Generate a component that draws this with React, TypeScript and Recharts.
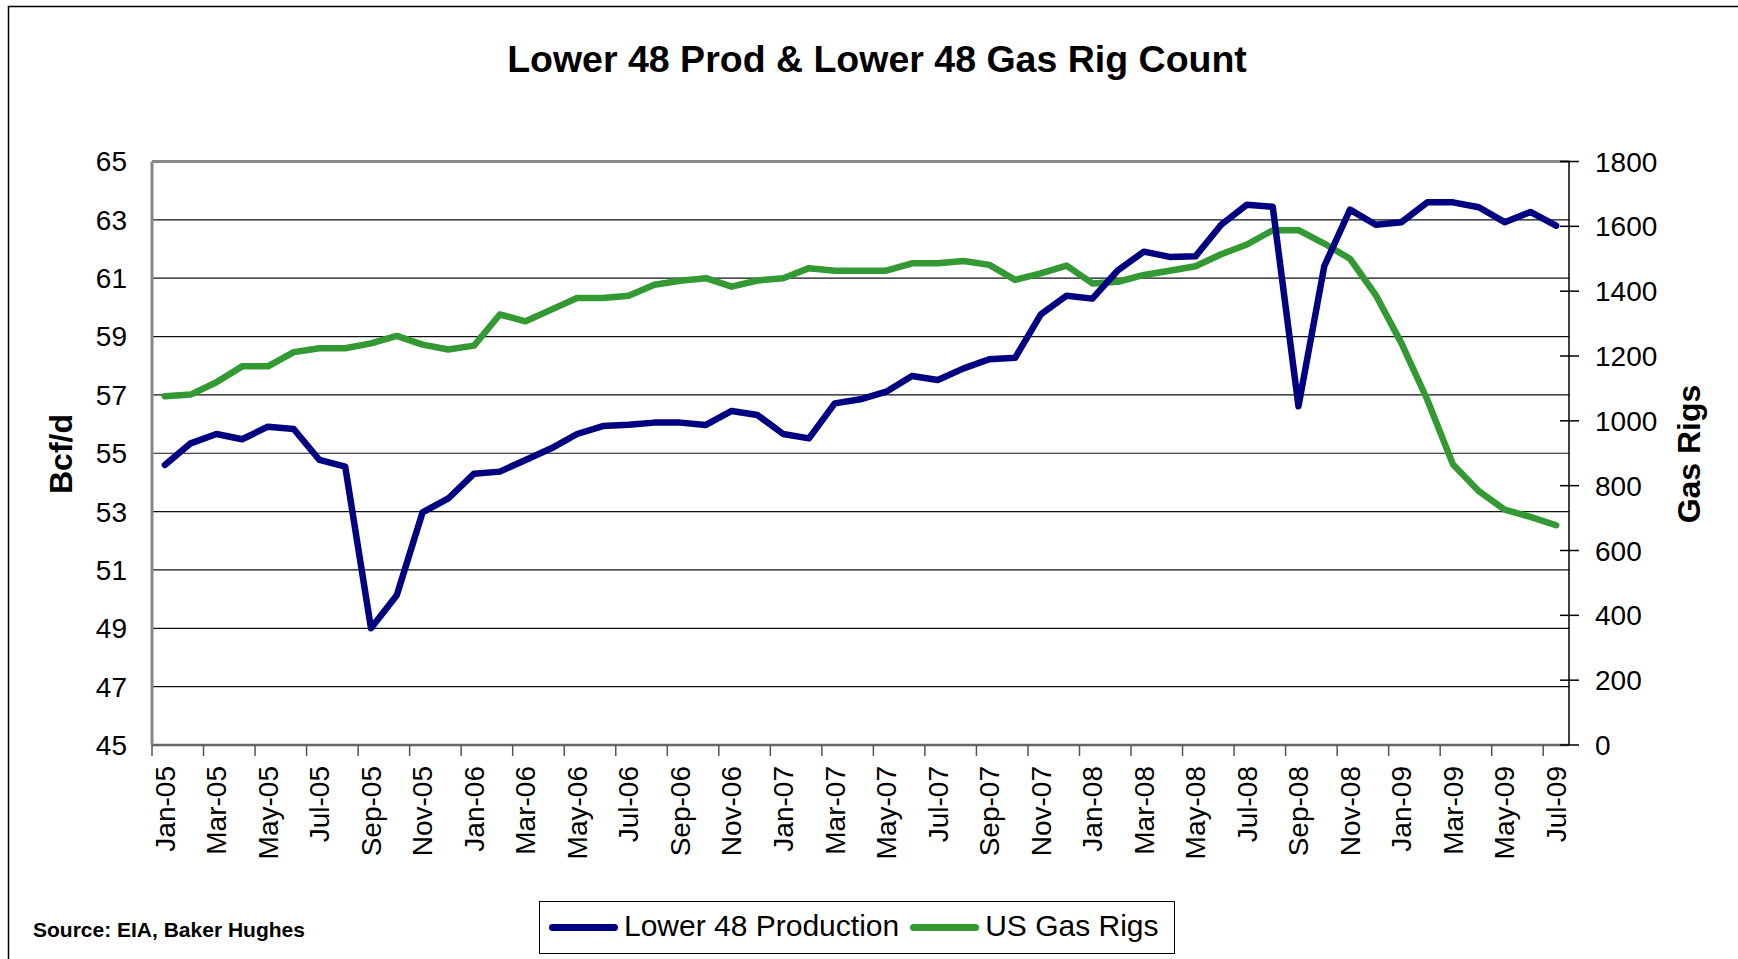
import { LineChart, Line, XAxis, YAxis, CartesianGrid, ReferenceLine, Legend } from 'recharts';

const W = 1738;
const H = 959;
const FONT = '"Liberation Sans", Arial, Helvetica, sans-serif';
const NAVY = '#000080';
const GREEN = '#339933';

// plot box
const PLOT_LEFT = 152;
const PLOT_RIGHT = 1569;
const PLOT_TOP = 161.5;
const PLOT_BOTTOM = 745;
const LEFT_AXIS_W = 80;
const RIGHT_AXIS_W = 110;
const X_AXIS_H = 130;
const RIGHT_TICK_GAP = 26;

const MONTHS = [
  'Jan-05', 'Feb-05', 'Mar-05', 'Apr-05', 'May-05', 'Jun-05', 'Jul-05', 'Aug-05', 'Sep-05', 'Oct-05', 'Nov-05', 'Dec-05',
  'Jan-06', 'Feb-06', 'Mar-06', 'Apr-06', 'May-06', 'Jun-06', 'Jul-06', 'Aug-06', 'Sep-06', 'Oct-06', 'Nov-06', 'Dec-06',
  'Jan-07', 'Feb-07', 'Mar-07', 'Apr-07', 'May-07', 'Jun-07', 'Jul-07', 'Aug-07', 'Sep-07', 'Oct-07', 'Nov-07', 'Dec-07',
  'Jan-08', 'Feb-08', 'Mar-08', 'Apr-08', 'May-08', 'Jun-08', 'Jul-08', 'Aug-08', 'Sep-08', 'Oct-08', 'Nov-08', 'Dec-08',
  'Jan-09', 'Feb-09', 'Mar-09', 'Apr-09', 'May-09', 'Jun-09', 'Jul-09'
];

// Bcf/d
const PRODUCTION = [
  54.6, 55.34, 55.66, 55.48, 55.91, 55.83, 54.77, 54.54, 49.0, 50.13, 52.97, 53.45,
  54.3, 54.37, 54.77, 55.17, 55.66, 55.93, 55.98, 56.05, 56.05, 55.97, 56.45, 56.31,
  55.66, 55.51, 56.71, 56.85, 57.11, 57.65, 57.51, 57.91, 58.22, 58.27, 59.76, 60.4,
  60.3, 61.28, 61.91, 61.73, 61.75, 62.83, 63.52, 63.45, 56.61, 61.41, 63.35, 62.83,
  62.92, 63.6, 63.6, 63.43, 62.92, 63.27, 62.8
];

// gas rig count
const RIGS = [
  1076, 1081, 1119, 1168, 1168, 1212, 1224, 1224, 1239, 1262, 1235, 1220,
  1232, 1328, 1307, 1343, 1379, 1379, 1386, 1420, 1432, 1440, 1414, 1433,
  1440, 1471, 1463, 1463, 1463, 1486, 1486, 1493, 1481, 1435, 1455, 1479,
  1424, 1429, 1450, 1463, 1477, 1514, 1544, 1588, 1588, 1547, 1500, 1388,
  1239, 1065, 865, 783, 726, 704, 678
];

const LEFT_TICKS = [45, 47, 49, 51, 53, 55, 57, 59, 61, 63, 65];
const RIGHT_TICKS = [0, 200, 400, 600, 800, 1000, 1200, 1400, 1600, 1800];
const X_TICKS = MONTHS.map((_, i) => i).filter((i) => i % 2 === 0);
const LEGEND_ORDER = ['Lower 48 Production', 'US Gas Rigs'];

const data = MONTHS.map((month, i) => ({ idx: i, month, prod: PRODUCTION[i], rigs: RIGS[i] }));

const HALF_BAND = (PLOT_RIGHT - PLOT_LEFT) / MONTHS.length / 2;

// label centred on the month, tick mark on the month's left boundary (Excel style)
function MonthTick({ x, y, payload }: any) {
  const label = MONTHS[payload.value];
  const bx = x - HALF_BAND;
  return (
    <g>
      <line x1={bx} x2={bx} y1={y} y2={y + 11} stroke="#555" strokeWidth={1.5} />
      <text
        x={x}
        y={y + 21}
        dy="0.35em"
        textAnchor="end"
        transform={`rotate(-90, ${x}, ${y + 21})`}
        fontSize={28}
        fontFamily={FONT}
        fill="#000"
      >
        {label}
      </text>
    </g>
  );
}

// right axis: tick crosses the axis line
function RigTick({ x, y, payload }: any) {
  const ax = x - RIGHT_TICK_GAP;
  return (
    <g>
      <line x1={ax - 9} x2={ax + 10} y1={y} y2={y} stroke="#000" strokeWidth={1.5} />
      <text x={x} y={y} dy="0.36em" textAnchor="start" fontSize={28} fontFamily={FONT} fill="#000">
        {payload.value}
      </text>
    </g>
  );
}

function LegendBox({ payload }: any) {
  const items = [...(payload ?? [])].sort(
    (a: any, b: any) => LEGEND_ORDER.indexOf(a.value) - LEGEND_ORDER.indexOf(b.value)
  );
  return (
    <div
      style={{
        width: 636,
        height: 53,
        boxSizing: 'border-box',
        border: '1.5px solid #000',
        background: '#fff',
        display: 'flex',
        alignItems: 'center',
        paddingLeft: 9,
        fontFamily: FONT,
        fontSize: 30,
        color: '#000',
        whiteSpace: 'nowrap'
      }}
    >
      {items.map((p: any, i: number) => (
        <div key={p.value} style={{ display: 'flex', alignItems: 'center', marginLeft: i === 0 ? 0 : 11 }}>
          <span style={{ display: 'inline-block', width: 69, height: 7, borderRadius: 3.5, background: p.color, marginRight: 6 }} />
          <span style={{ lineHeight: '30px', position: 'relative', top: -2 }}>{p.value}</span>
        </div>
      ))}
    </div>
  );
}

export default function App() {
  return (
    <div style={{ position: 'absolute', left: 0, top: 0, width: W, height: H, background: '#fff', overflow: 'hidden' }}>
      <LineChart
        width={W}
        height={H}
        data={data}
        margin={{
          top: PLOT_TOP,
          right: W - PLOT_RIGHT - RIGHT_AXIS_W,
          bottom: H - PLOT_BOTTOM - X_AXIS_H,
          left: PLOT_LEFT - LEFT_AXIS_W
        }}
      >
        <CartesianGrid xAxisId="x" yAxisId="l" vertical={false} stroke="#111" strokeWidth={1.2} />
        <XAxis
          xAxisId="x"
          dataKey="idx"
          type="number"
          domain={[-0.5, MONTHS.length - 0.5]}
          allowDataOverflow
          ticks={X_TICKS}
          interval={0}
          height={X_AXIS_H}
          tickSize={0}
          tickMargin={0}
          tickLine={false}
          tick={<MonthTick />}
          axisLine={{ stroke: '#666', strokeWidth: 2.5 }}
        />
        <YAxis
          yAxisId="l"
          orientation="left"
          domain={[45, 65]}
          ticks={LEFT_TICKS}
          interval={0}
          width={LEFT_AXIS_W}
          tickLine={false}
          tickSize={0}
          tickMargin={25}
          tick={{ fontSize: 28, fill: '#000', fontFamily: FONT }}
          axisLine={{ stroke: '#888', strokeWidth: 3 }}
        />
        <YAxis
          yAxisId="r"
          orientation="right"
          domain={[0, 1800]}
          ticks={RIGHT_TICKS}
          interval={0}
          width={RIGHT_AXIS_W}
          tickLine={false}
          tickSize={0}
          tickMargin={RIGHT_TICK_GAP}
          tick={<RigTick />}
          axisLine={{ stroke: '#000', strokeWidth: 1.5 }}
        />
        <ReferenceLine xAxisId="x" yAxisId="l" y={65} stroke="#888" strokeWidth={3} />
        <Line
          xAxisId="x"
          yAxisId="r"
          type="linear"
          dataKey="rigs"
          name="US Gas Rigs"
          stroke={GREEN}
          strokeWidth={6.5}
          strokeLinejoin="round"
          strokeLinecap="round"
          dot={false}
          activeDot={false}
          isAnimationActive={false}
        />
        <Line
          xAxisId="x"
          yAxisId="l"
          type="linear"
          dataKey="prod"
          name="Lower 48 Production"
          stroke={NAVY}
          strokeWidth={6.5}
          strokeLinejoin="round"
          strokeLinecap="round"
          dot={false}
          activeDot={false}
          isAnimationActive={false}
        />
        <Legend
          layout="horizontal"
          verticalAlign="middle"
          align="center"
          content={<LegendBox />}
          wrapperStyle={{ left: 539, top: 901, width: 636, height: 53 }}
        />
      </LineChart>

      <svg
        width={W}
        height={H}
        style={{ position: 'absolute', left: 0, top: 0, pointerEvents: 'none' }}
        fontFamily={FONT}
      >
        <rect x={8.5} y={6.5} width={W + 20} height={H + 20} fill="none" stroke="#000" strokeWidth={1.5} />
        <text x={877} y={72} textAnchor="middle" fontSize={37.5} fontWeight="bold" fill="#000">
          Lower 48 Prod &amp; Lower 48 Gas Rig Count
        </text>
        <text x={72} y={454} textAnchor="middle" fontSize={32} fontWeight="bold" fill="#000" transform="rotate(-90, 72, 454)">
          Bcf/d
        </text>
        <text x={1700} y={454} textAnchor="middle" fontSize={32} fontWeight="bold" fill="#000" transform="rotate(-90, 1700, 454)">
          Gas Rigs
        </text>
        <text x={33} y={937} fontSize={21} fontWeight="bold" fill="#000">
          Source: EIA, Baker Hughes
        </text>
      </svg>
    </div>
  );
}
